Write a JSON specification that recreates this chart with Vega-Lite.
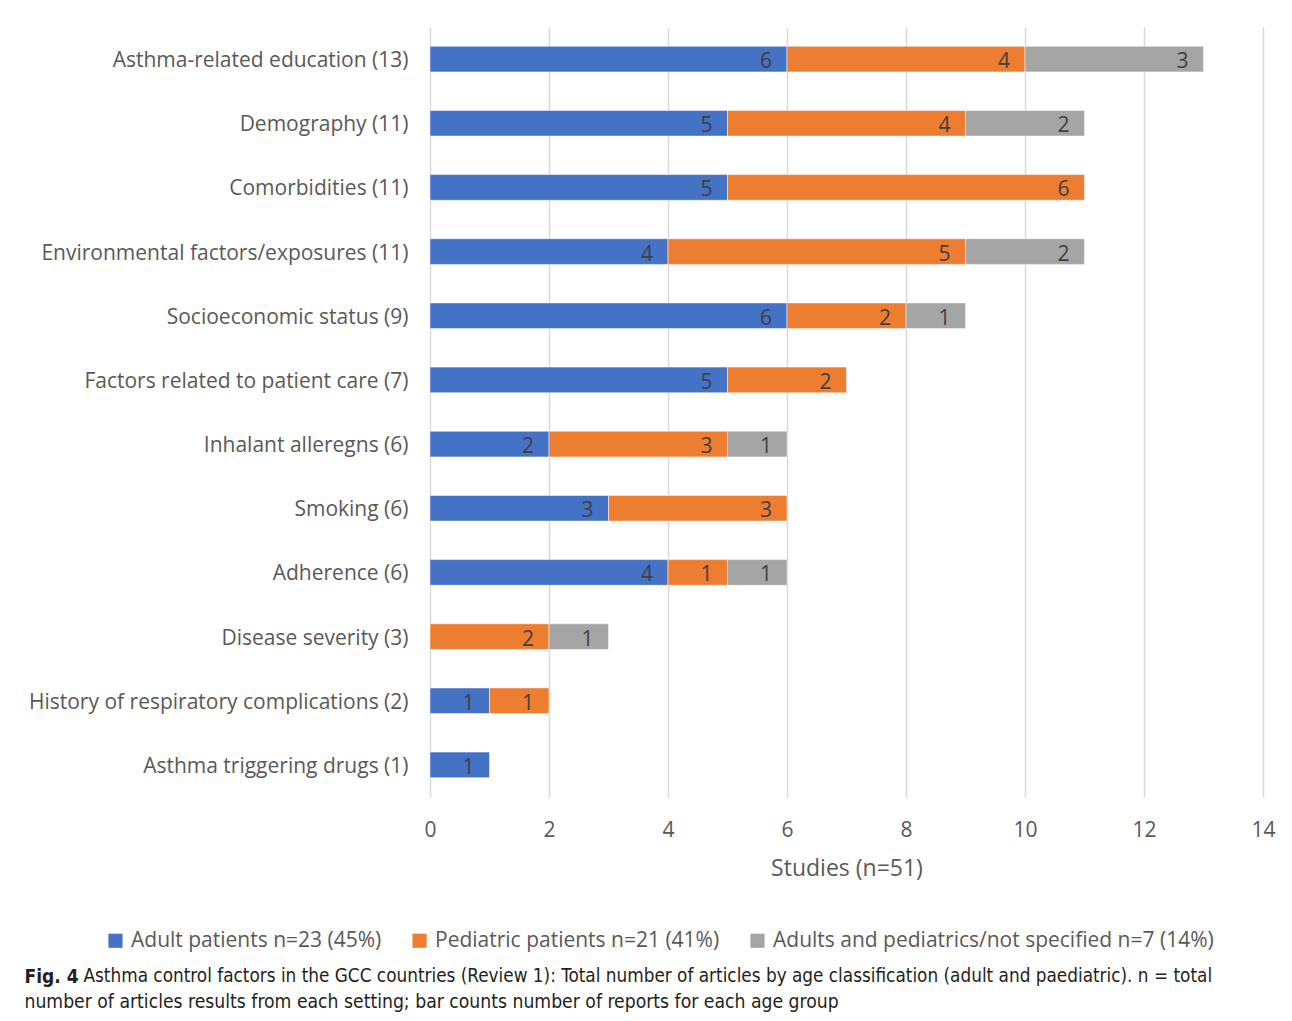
{
  "$schema": "https://vega.github.io/schema/vega-lite/v6.json",
  "width": 833,
  "height": 770,
  "autosize": {"type": "none"},
  "padding": {"left": 430, "top": 27, "right": 29, "bottom": 224},
  "background": "white",
  "config": {"view": {"stroke": null}, "font": "Open Sans"},
  "title": {
    "text": "Fig. 4",
    "subtitle": "number of articles results from each setting; bar counts number of reports for each age group",
    "orient": "bottom",
    "anchor": "start",
    "frame": "bounds",
    "offset": -17,
    "dx": -4,
    "font": "DejaVu Sans Condensed",
    "fontSize": 19,
    "fontWeight": "bold",
    "color": "#231f20",
    "subtitleFont": "DejaVu Sans Condensed",
    "subtitleFontSize": 19.2,
    "subtitleColor": "#231f20",
    "subtitlePadding": 6
  },
  "data": {
    "values": [
      {"factor": "Asthma-related education (13)", "group": "Adult patients n=23 (45%)", "order": 1, "value": 6},
      {"factor": "Asthma-related education (13)", "group": "Pediatric patients n=21 (41%)", "order": 2, "value": 4},
      {"factor": "Asthma-related education (13)", "group": "Adults and pediatrics/not specified n=7 (14%)", "order": 3, "value": 3},
      {"factor": "Demography (11)", "group": "Adult patients n=23 (45%)", "order": 1, "value": 5},
      {"factor": "Demography (11)", "group": "Pediatric patients n=21 (41%)", "order": 2, "value": 4},
      {"factor": "Demography (11)", "group": "Adults and pediatrics/not specified n=7 (14%)", "order": 3, "value": 2},
      {"factor": "Comorbidities (11)", "group": "Adult patients n=23 (45%)", "order": 1, "value": 5},
      {"factor": "Comorbidities (11)", "group": "Pediatric patients n=21 (41%)", "order": 2, "value": 6},
      {"factor": "Environmental factors/exposures (11)", "group": "Adult patients n=23 (45%)", "order": 1, "value": 4},
      {"factor": "Environmental factors/exposures (11)", "group": "Pediatric patients n=21 (41%)", "order": 2, "value": 5},
      {"factor": "Environmental factors/exposures (11)", "group": "Adults and pediatrics/not specified n=7 (14%)", "order": 3, "value": 2},
      {"factor": "Socioeconomic status (9)", "group": "Adult patients n=23 (45%)", "order": 1, "value": 6},
      {"factor": "Socioeconomic status (9)", "group": "Pediatric patients n=21 (41%)", "order": 2, "value": 2},
      {"factor": "Socioeconomic status (9)", "group": "Adults and pediatrics/not specified n=7 (14%)", "order": 3, "value": 1},
      {"factor": "Factors related to patient care (7)", "group": "Adult patients n=23 (45%)", "order": 1, "value": 5},
      {"factor": "Factors related to patient care (7)", "group": "Pediatric patients n=21 (41%)", "order": 2, "value": 2},
      {"factor": "Inhalant alleregns (6)", "group": "Adult patients n=23 (45%)", "order": 1, "value": 2},
      {"factor": "Inhalant alleregns (6)", "group": "Pediatric patients n=21 (41%)", "order": 2, "value": 3},
      {"factor": "Inhalant alleregns (6)", "group": "Adults and pediatrics/not specified n=7 (14%)", "order": 3, "value": 1},
      {"factor": "Smoking (6)", "group": "Adult patients n=23 (45%)", "order": 1, "value": 3},
      {"factor": "Smoking (6)", "group": "Pediatric patients n=21 (41%)", "order": 2, "value": 3},
      {"factor": "Adherence (6)", "group": "Adult patients n=23 (45%)", "order": 1, "value": 4},
      {"factor": "Adherence (6)", "group": "Pediatric patients n=21 (41%)", "order": 2, "value": 1},
      {"factor": "Adherence (6)", "group": "Adults and pediatrics/not specified n=7 (14%)", "order": 3, "value": 1},
      {"factor": "Disease severity (3)", "group": "Pediatric patients n=21 (41%)", "order": 2, "value": 2},
      {"factor": "Disease severity (3)", "group": "Adults and pediatrics/not specified n=7 (14%)", "order": 3, "value": 1},
      {"factor": "History of respiratory complications (2)", "group": "Adult patients n=23 (45%)", "order": 1, "value": 1},
      {"factor": "History of respiratory complications (2)", "group": "Pediatric patients n=21 (41%)", "order": 2, "value": 1},
      {"factor": "Asthma triggering drugs (1)", "group": "Adult patients n=23 (45%)", "order": 1, "value": 1}
    ]
  },
  "transform": [
    {"stack": "value", "groupby": ["factor"], "sort": [{"field": "order"}], "as": ["v0", "v1"]}
  ],
  "encoding": {
    "y": {
      "field": "factor",
      "type": "nominal",
      "title": "Asthma control factors in the GCC countries (Review 1): Total number of articles by age classification (adult and paediatric). n = total",
      "sort": [
        "Asthma-related education (13)",
        "Demography (11)",
        "Comorbidities (11)",
        "Environmental factors/exposures (11)",
        "Socioeconomic status (9)",
        "Factors related to patient care (7)",
        "Inhalant alleregns (6)",
        "Smoking (6)",
        "Adherence (6)",
        "Disease severity (3)",
        "History of respiratory complications (2)",
        "Asthma triggering drugs (1)"
      ],
      "scale": {"paddingInner": 0.6, "paddingOuter": 0.3},
      "axis": {
        "domain": false,
        "ticks": false,
        "grid": false,
        "labelFontSize": 21,
        "labelColor": "#595959",
        "labelPadding": 22,
        "labelOffset": 2,
        "labelLimit": 0,
        "titleAngle": 0,
        "titleX": -347,
        "titleY": 939,
        "titleAlign": "left",
        "titleBaseline": "top",
        "titleFont": "DejaVu Sans Condensed",
        "titleFontSize": 18.8,
        "titleFontWeight": "normal",
        "titleColor": "#231f20",
        "titleLimit": 0
      }
    }
  },
  "layer": [
    {
      "mark": {"type": "bar", "stroke": "#ffffff", "strokeWidth": 1, "strokeOpacity": 0.5},
      "encoding": {
        "x": {
          "field": "v0",
          "type": "quantitative",
          "scale": {"domain": [0, 14], "nice": false},
          "axis": {
            "title": "Studies (n=51)",
            "values": [0, 2, 4, 6, 8, 10, 12, 14],
            "format": "d",
            "labelFlush": false,
            "domain": false,
            "ticks": false,
            "grid": true,
            "gridColor": "#d9d9d9",
            "gridWidth": 1.5,
            "labelFontSize": 21,
            "labelColor": "#595959",
            "labelPadding": 22,
            "titleFontSize": 23,
            "titleFontWeight": "normal",
            "titleColor": "#595959",
            "titlePadding": 17
          }
        },
        "x2": {"field": "v1"},
        "color": {
          "field": "group",
          "type": "nominal",
          "scale": {
            "domain": ["Adult patients n=23 (45%)", "Pediatric patients n=21 (41%)", "Adults and pediatrics/not specified n=7 (14%)"],
            "range": ["#4472c4", "#ed7d31", "#a5a5a5"]
          },
          "legend": {
            "orient": "none",
            "direction": "horizontal",
            "legendX": -325,
            "legendY": 903,
            "title": null,
            "symbolType": "square",
            "symbolSize": 200,
            "symbolStrokeWidth": 0,
            "labelFontSize": 21,
            "labelColor": "#595959",
            "labelOffset": 5,
            "labelLimit": 0,
            "columnPadding": 27
          }
        }
      }
    },
    {
      "mark": {"type": "text", "align": "right", "baseline": "middle", "dx": -15, "dy": 3, "fontSize": 21, "color": "#404040"},
      "encoding": {
        "x": {"field": "v1", "type": "quantitative"},
        "text": {"field": "value", "type": "quantitative"}
      }
    }
  ]
}
